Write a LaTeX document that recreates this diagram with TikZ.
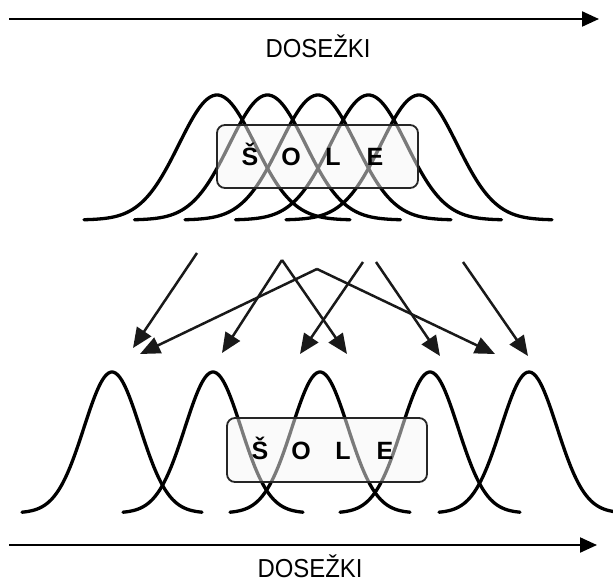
\documentclass[tikz,border=0pt]{standalone}
\usepackage{fontspec}
\setmainfont{Liberation Sans}
\usetikzlibrary{arrows.meta}
\begin{document}
\begin{tikzpicture}[x=1pt,y=-1pt,
  curve/.style={line width=3.3pt, line join=round, line cap=round},
  axis/.style={line width=2.2pt, -{Triangle[length=17pt,width=15pt]}},
  conn/.style={line width=2.5pt, draw=black!90, -{Triangle[length=20pt,width=17pt]}},
  solebox/.style={draw=black!85, line width=1.8pt, rounded corners=8pt, fill=black!4, fill opacity=0.5, inner sep=0pt},
  letter/.style={font=\fontsize{25}{25}\selectfont\bfseries, inner sep=0pt, anchor=base},
  axlabel/.style={font=\fontsize{26}{26}\selectfont, inner sep=0pt, anchor=base}]
\useasboundingbox (0,0) rectangle (613,583);
% top axis
\coordinate (ta1) at (9,19);
\coordinate (ta2) at (599,19);
\draw[axis] (ta1) -- (ta2);
\node[axlabel, xscale=0.92] (tlab) at (318,58) {DOSEŽKI};
% top curves
\foreach \m in {217,267.5,318,368.5,419}
  \draw[curve] plot[variable=\t, domain=-133:133, samples=90, smooth] ({\m+\t},{220-125*exp(-0.5*(\t/38)^2)});
\node[solebox, minimum width=201pt, minimum height=63pt] (tbox) at (317.5,156.5) {};
\node[letter] (t1) at (250,165) {Š};
\node[letter] (t2) at (291,165) {O};
\node[letter] (t3) at (333,165) {L};
\node[letter] (t4) at (375,165) {E};
% connectors
\coordinate (s1) at (197,253);
\coordinate (s2) at (282,260);
\coordinate (s3) at (317,269);
\coordinate (s4) at (363,262);
\coordinate (s5) at (376,262);
\coordinate (s6) at (463,262);
\coordinate (e1) at (133,348);
\coordinate (e2) at (140,354);
\coordinate (e3) at (222,353);
\coordinate (e4) at (300,354);
\coordinate (e5) at (347,354);
\coordinate (e6) at (440,356);
\coordinate (e7) at (495,354);
\coordinate (e8) at (528,356);
\draw[conn] (s1) -- (e1);
\draw[conn] (s2) -- (e3);
\draw[conn] (s2) -- (e5);
\draw[conn] (s3) -- (e2);
\draw[conn] (s3) -- (e7);
\draw[conn] (s4) -- (e4);
\draw[conn] (s5) -- (e6);
\draw[conn] (s6) -- (e8);
% bottom curves
\foreach \m/\r in {112/90,213/90,320/90,430/90,529/84}
  \draw[curve] plot[variable=\t, domain=-90:\r, samples=80, smooth] ({\m+\t},{513-141*exp(-0.5*(\t/28)^2)});
\node[solebox, minimum width=200pt, minimum height=64pt] (bbox) at (327,450) {};
\node[letter] (b1) at (260,459) {Š};
\node[letter] (b2) at (301,459) {O};
\node[letter] (b3) at (343,459) {L};
\node[letter] (b4) at (385,459) {E};
% bottom axis
\coordinate (ba1) at (9,545);
\coordinate (ba2) at (597,545);
\draw[axis] (ba1) -- (ba2);
\node[axlabel, xscale=0.92] (blab) at (310,577) {DOSEŽKI};
\end{tikzpicture}
\end{document}
